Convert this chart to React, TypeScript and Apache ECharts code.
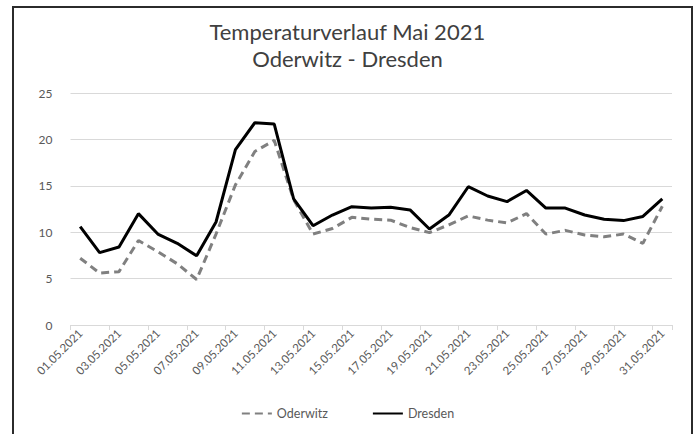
import React, { useEffect, useRef } from "react";
import * as echarts from "echarts";

const categories = [
  "01.05.2021", "02.05.2021", "03.05.2021", "04.05.2021", "05.05.2021", "06.05.2021",
  "07.05.2021", "08.05.2021", "09.05.2021", "10.05.2021", "11.05.2021", "12.05.2021",
  "13.05.2021", "14.05.2021", "15.05.2021", "16.05.2021", "17.05.2021", "18.05.2021",
  "19.05.2021", "20.05.2021", "21.05.2021", "22.05.2021", "23.05.2021", "24.05.2021",
  "25.05.2021", "26.05.2021", "27.05.2021", "28.05.2021", "29.05.2021", "30.05.2021",
  "31.05.2021",
];

const oderwitz = [
  7.2, 5.6, 5.75, 9.1, 7.9, 6.6, 4.9, 9.8, 15.1, 18.7, 19.9, 13.5, 9.8, 10.4, 11.6, 11.4,
  11.3, 10.5, 9.95, 10.8, 11.75, 11.3, 11.0, 12.0, 9.8, 10.2, 9.7, 9.5, 9.8, 8.8, 12.8,
];

const dresden = [
  10.6, 7.8, 8.4, 12.0, 9.8, 8.8, 7.45, 11.1, 18.9, 21.8, 21.65, 13.6, 10.7, 11.85, 12.75, 12.6,
  12.7, 12.4, 10.35, 11.85, 14.9, 13.9, 13.3, 14.5, 12.6, 12.6, 11.85, 11.4, 11.25, 11.7, 13.6,
];

const titleLines = ["Temperaturverlauf Mai 2021", "Oderwitz - Dresden"];

const yTicks = { min: 0, max: 25, interval: 5 };

const FONT = "Lato, 'Open Sans', sans-serif";

export default function App() {
  const ref = useRef<HTMLDivElement>(null);

  useEffect(() => {
    if (!ref.current) return;
    const chart = echarts.init(ref.current, undefined, { renderer: "svg" });
    chart.setOption({
      animation: false,
      backgroundColor: "#ffffff",
      textStyle: { fontFamily: FONT },
      graphic: [
        {
          type: "rect",
          shape: { x: 13, y: 7, width: 679, height: 440 },
          style: { fill: "none", stroke: "#2b2b2b", lineWidth: 2 },
          z: 0,
        },
        {
          type: "text",
          left: "center",
          top: 20,
          style: {
            text: titleLines[0],
            fill: "#404040",
            fontSize: 22,
            fontFamily: FONT,
          },
        },
        {
          type: "text",
          left: "center",
          top: 47,
          style: {
            text: titleLines[1],
            fill: "#404040",
            fontSize: 22,
            fontFamily: FONT,
          },
        },
      ],
      legend: {
        bottom: 9,
        left: "center",
        itemWidth: 30,
        itemHeight: 10,
        itemGap: 44,
        itemStyle: { opacity: 0 },
        textStyle: { color: "#595959", fontSize: 12.5, fontFamily: FONT },
        data: ["Oderwitz", "Dresden"],
      },
      grid: { left: 70.5, right: 23, top: 93, bottom: 109, containLabel: false },
      xAxis: {
        type: "category",
        data: categories,
        boundaryGap: true,
        axisLine: { lineStyle: { color: "#d9d9d9", width: 1 } },
        axisTick: { show: true, interval: 1, length: 5, lineStyle: { color: "#d9d9d9" } },
        axisLabel: {
          interval: 1,
          rotate: 45,
          color: "#595959",
          fontSize: 11.5,
          fontFamily: FONT,
          margin: 6,
        },
        splitLine: { show: false },
      },
      yAxis: {
        type: "value",
        min: yTicks.min,
        max: yTicks.max,
        interval: yTicks.interval,
        axisLine: { show: false },
        axisTick: { show: false },
        axisLabel: { color: "#595959", fontSize: 12, fontFamily: FONT, margin: 18 },
        splitLine: { lineStyle: { color: "#d9d9d9", width: 1 } },
      },
      series: [
        {
          name: "Oderwitz",
          type: "line",
          data: oderwitz,
          symbol: "none",
          lineStyle: { color: "#808080", width: 3, type: [8, 5] },
          itemStyle: { color: "#808080" },
          z: 2,
        },
        {
          name: "Dresden",
          type: "line",
          data: dresden,
          symbol: "none",
          lineStyle: { color: "#000000", width: 3 },
          itemStyle: { color: "#000000" },
          z: 3,
        },
      ],
    });
    return () => chart.dispose();
  }, []);

  return (
    <div
      ref={ref}
      style={{ position: "fixed", left: 0, top: 0, width: 695, height: 434 }}
    />
  );
}
